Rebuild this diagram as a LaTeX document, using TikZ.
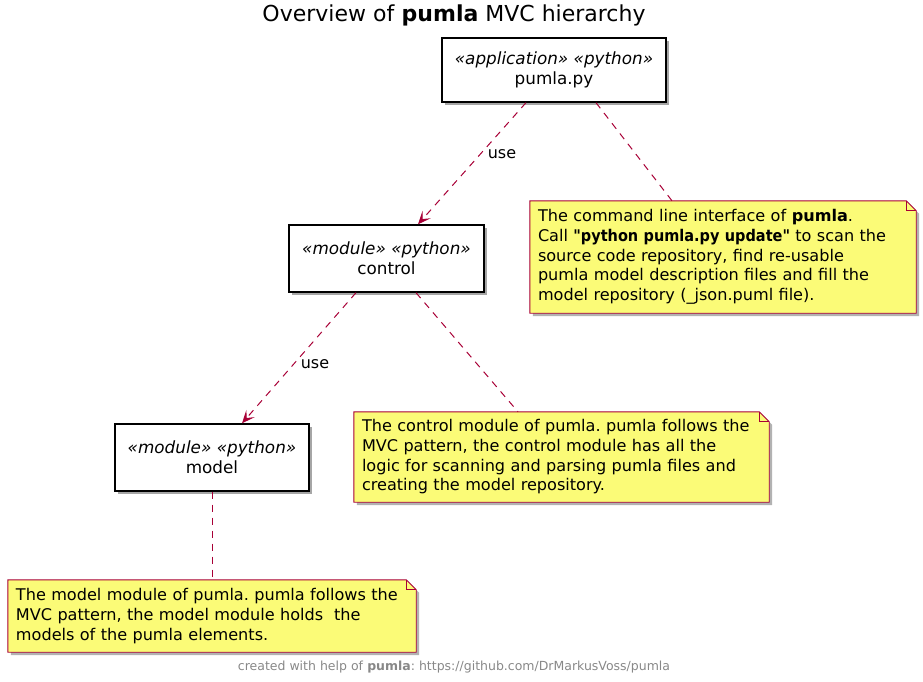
\documentclass[tikz,border=0pt]{standalone}
\usepackage{fontspec}
\setmainfont{DejaVu Sans}[Ligatures=TeXOff]
\newfontface\narrowbold{DejaVu Sans Bold}[Ligatures=TeXOff, FakeStretch=0.9]
\usetikzlibrary{arrows.meta,shadows,backgrounds}
\definecolor{umlred}{HTML}{A80036}
\definecolor{notefill}{HTML}{FBFB77}
\definecolor{footgray}{HTML}{888888}
\frenchspacing
\tikzset{
  compbox/.style={draw=black, line width=1.4pt, fill=white, align=center, inner sep=0pt,
    font=\fontsize{16.8}{20}\selectfont,
    drop shadow={shadow xshift=3pt, shadow yshift=-3pt, opacity=0.35, fill=black}},
  notebox/.style={inner xsep=8pt, inner ysep=0pt, align=left,
    font=\fontsize{16.1}{19.7}\selectfont},
  dep/.style={umlred, line width=1pt, dash pattern=on 7pt off 6pt,
    -{Stealth[length=13pt, width=11pt, inset=6pt]}},
  anchorline/.style={umlred, line width=1pt, dash pattern=on 7pt off 6pt},
  lbl/.style={font=\fontsize{16}{18}\selectfont, inner sep=0pt}
}
\newcommand\drawnote[1]{%
  \fill[black, opacity=0.3] ([shift={(3,3)}]#1.north west) -- ([shift={(-7,3)}]#1.north east)
     -- ([shift={(3,13)}]#1.north east) -- ([shift={(3,3)}]#1.south east)
     -- ([shift={(3,3)}]#1.south west) -- cycle;
  \filldraw[fill=notefill, draw=umlred, line width=0.9pt] (#1.north west) -- ([shift={(-10,0)}]#1.north east)
     -- ([shift={(0,10)}]#1.north east) -- (#1.south east) -- (#1.south west) -- cycle;
  \draw[umlred, line width=0.9pt] ([shift={(-10,0)}]#1.north east) -- ([shift={(-10,10)}]#1.north east)
     -- ([shift={(0,10)}]#1.north east);
}
\begin{document}
\begin{tikzpicture}[x=1pt, y=-1pt]
\useasboundingbox (0,0) rectangle (923,682);

\node[font=\fontsize{22}{26}\selectfont, inner sep=0pt] (title) at (454,15)
  {Overview of \textbf{pumla} MVC hierarchy};

\node[compbox, minimum width=224pt, minimum height=64pt] (app) at (554,70)
  {\textit{«application» «python»}\\pumla.py};
\node[compbox, minimum width=195pt, minimum height=67pt] (ctl) at (386.5,258.5)
  {\textit{«module» «python»}\\control};
\node[compbox, minimum width=194pt, minimum height=67pt] (mdl) at (212,457.5)
  {\textit{«module» «python»}\\model};

% notes (text nodes, shapes drawn behind)
\node[notebox, text width=370pt, minimum height=112pt] (n1) at (723,257)
  {The command line interface of \textbf{pumla}.\\
   \mbox{Call {\narrowbold "python pumla.py update"} to scan the}\\
   source code repository, find re-usable\\
   pumla model description files and fill the\\
   model repository (\_json.puml file).};
\node[notebox, text width=399pt, minimum height=90pt] (n2) at (561.5,457)
  {The control module of pumla. pumla follows the\\
   MVC pattern, the control module has all the\\
   logic for scanning and parsing pumla files and\\
   creating the model repository.};
\node[notebox, text width=392pt, minimum height=72pt] (n3) at (212,616)
  {The model module of pumla. pumla follows the\\
   MVC pattern, the model module holds\ \ the\\
   models of the pumla elements.};

\begin{pgfonlayer}{background}
  \drawnote{n1}
  \drawnote{n2}
  \drawnote{n3}
\end{pgfonlayer}

% connectors
\draw[dep] ([xshift=-28pt]app.south) -- ([xshift=31.5pt]ctl.north);
\draw[anchorline] ([xshift=42pt]app.south) -- ([xshift=-51pt]n1.north);
\draw[dep] ([xshift=-30.5pt]ctl.south) -- ([xshift=30pt]mdl.north);
\draw[anchorline] ([xshift=29.5pt]ctl.south) -- ([xshift=-43.5pt]n2.north);
\draw[anchorline] (mdl.south) -- (n3.north);

\node[lbl] (u1) at (502,154) {use};
\node[lbl] (u2) at (315,364) {use};

\node[font=\fontsize{12.5}{14}\selectfont, text=footgray, inner sep=0pt] (foot) at (454,667)
  {created with help of \textbf{pumla}: https://github.com/DrMarkusVoss/pumla};
\end{tikzpicture}
\end{document}
